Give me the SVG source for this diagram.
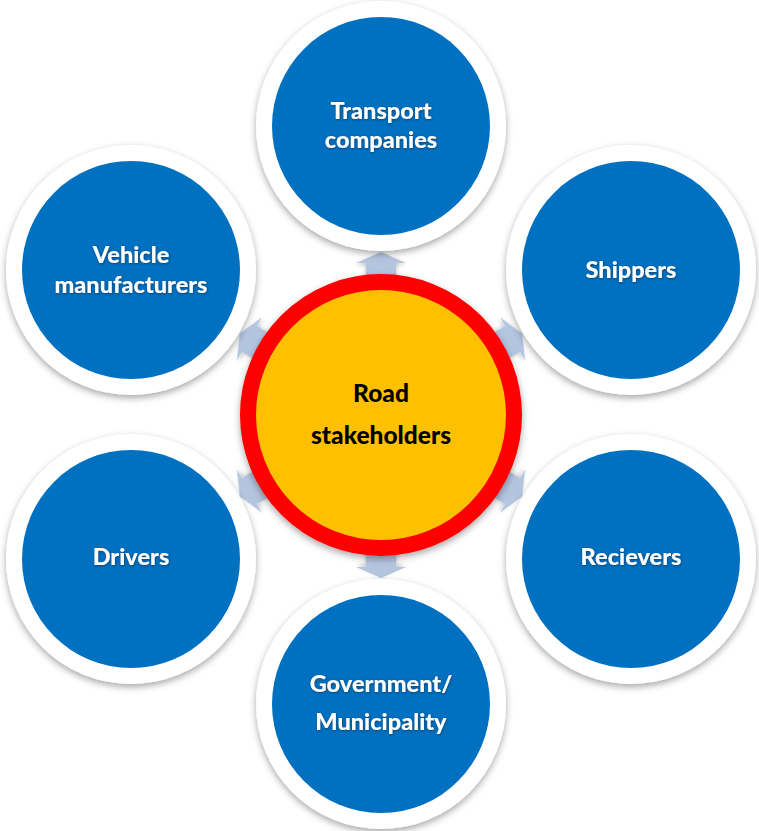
<svg xmlns="http://www.w3.org/2000/svg" width="759" height="831" viewBox="0 0 759 831">
  <defs>
    <filter id="shadow" x="-20%" y="-20%" width="140%" height="140%">
      <feDropShadow dx="0" dy="3" stdDeviation="3.5" flood-color="#000" flood-opacity="0.35"/>
    </filter>
    <filter id="soft" x="-30%" y="-30%" width="160%" height="160%">
      <feDropShadow dx="0" dy="2" stdDeviation="2" flood-color="#000" flood-opacity="0.25"/>
    </filter>
    <filter id="glow" x="-10%" y="-30%" width="120%" height="160%">
      <feDropShadow dx="0.5" dy="0.8" stdDeviation="0.8" flood-color="#1a2a40" flood-opacity="0.7"/>
    </filter>
    <!-- arrow pointing outward (up), centred on the hub -->
    <path id="arrow" d="M -15 -135 L -15 -152 L -25 -152 L 0 -163 L 25 -152 L 15 -152 L 15 -135 Z"/>
  </defs>
  <style>
    .ring { fill: #ffffff; filter: url(#shadow); }
    .disc { fill: #0070C0; }
    .label { font-family: Lato, "Open Sans", "Liberation Sans", sans-serif; font-weight: 900; font-size: 23.5px; fill: #ffffff; text-anchor: middle; filter: url(#glow); }
    .hub-label { font-family: Lato, "Open Sans", "Liberation Sans", sans-serif; font-weight: 900; font-size: 24.5px; fill: #000000; text-anchor: middle; }
    .arrow { fill: #B4C5E0; filter: url(#soft); }
  </style>

  <rect width="759" height="831" fill="#ffffff"/>

  <g id="connectors">
    <use href="#arrow" class="arrow" transform="translate(381 415) rotate(0)"/>
    <use href="#arrow" class="arrow" transform="translate(381 415) rotate(60)"/>
    <use href="#arrow" class="arrow" transform="translate(381 415) rotate(120)"/>
    <use href="#arrow" class="arrow" transform="translate(381 415) rotate(180)"/>
    <use href="#arrow" class="arrow" transform="translate(381 415) rotate(240)"/>
    <use href="#arrow" class="arrow" transform="translate(381 415) rotate(300)"/>
  </g>

  <g id="road-stakeholders">
    <circle cx="381" cy="415" r="133" fill="#FFC000" stroke="#FF0000" stroke-width="16" filter="url(#shadow)"/>
    <text class="hub-label" x="381" y="402">Road</text>
    <text class="hub-label" x="381" y="444">stakeholders</text>
  </g>

  <g id="transport-companies">
    <circle class="ring" cx="381" cy="126" r="125"/>
    <circle class="disc" cx="381" cy="126" r="109"/>
    <text class="label" x="381" y="119">Transport</text>
    <text class="label" x="381" y="148">companies</text>
  </g>

  <g id="shippers">
    <circle class="ring" cx="631" cy="270" r="125"/>
    <circle class="disc" cx="631" cy="270" r="109"/>
    <text class="label" x="631" y="278">Shippers</text>
  </g>

  <g id="recievers">
    <circle class="ring" cx="631" cy="559" r="125"/>
    <circle class="disc" cx="631" cy="559" r="109"/>
    <text class="label" x="631" y="565">Recievers</text>
  </g>

  <g id="government-municipality">
    <circle class="ring" cx="381" cy="704" r="125"/>
    <circle class="disc" cx="381" cy="704" r="109"/>
    <text class="label" x="381" y="692">Government/</text>
    <text class="label" x="381" y="730">Municipality</text>
  </g>

  <g id="drivers">
    <circle class="ring" cx="131" cy="559" r="125"/>
    <circle class="disc" cx="131" cy="559" r="109"/>
    <text class="label" x="131" y="565">Drivers</text>
  </g>

  <g id="vehicle-manufacturers">
    <circle class="ring" cx="131" cy="270" r="125"/>
    <circle class="disc" cx="131" cy="270" r="109"/>
    <text class="label" x="131" y="263">Vehicle</text>
    <text class="label" x="131" y="293">manufacturers</text>
  </g>
</svg>
